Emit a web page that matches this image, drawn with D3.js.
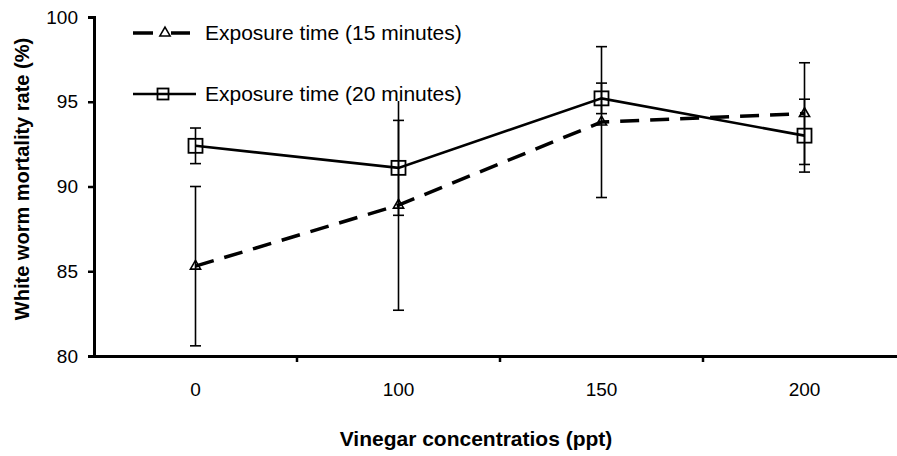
<!DOCTYPE html>
<html>
<head>
<meta charset="utf-8">
<script src="https://cdn.jsdelivr.net/npm/d3@7/dist/d3.min.js"></script>
<style>
    body { margin: 0; background: #fff; }
    text { font-family: Arial, "Liberation Sans", sans-serif; }
</style>
</head>
<body>
<div id="container"></div>
<script>
// data
const categories = ['0', '100', '150', '200']
const yTicks = [80, 85, 90, 95, 100]

const mean15 = [85.3, 88.9, 93.8, 94.3]
const err15 = [4.7, 6.2, 4.45, 3.0]
const mean20 = [92.4, 91.1, 95.2, 93.0]
const err20 = [1.05, 2.8, 0.9, 2.15]

const series = [
    { name: 'Exposure time (15 minutes)', mean: mean15, err: err15, dash: '19,11', lw: 3.5, marker: 'triangle' },
    { name: 'Exposure time (20 minutes)', mean: mean20, err: err20, dash: null, lw: 2.6, marker: 'square' }
]

const width = 897
const height = 456
const margin = { top: 17, right: -9, bottom: 100, left: 94 }

const svg = d3.select('#container').append('svg')
    .attr('width', width).attr('height', height)
    .style('background', '#fff')

const x = d3.scaleBand()
    .domain(categories)
    .range([margin.left, width - margin.right])
    .padding(0)

const y = d3.scaleLinear()
    .domain([80, 100])
    .range([height - margin.bottom, margin.top])

const cx = d => x(d) + x.bandwidth() / 2

// error bars
series.forEach(s => {
    const g = svg.append('g')
    categories.forEach((c, i) => {
        const lo = y(s.mean[i] - s.err[i])
        const hi = y(s.mean[i] + s.err[i])
        g.append('line').attr('x1', cx(c)).attr('x2', cx(c)).attr('y1', lo).attr('y2', hi)
            .attr('stroke', '#000').attr('stroke-width', 1.6)
        ;[lo, hi].forEach(v => {
            g.append('line').attr('x1', cx(c) - 5.5).attr('x2', cx(c) + 5.5).attr('y1', v).attr('y2', v)
                .attr('stroke', '#000').attr('stroke-width', 1.6)
        })
    })
})

// lines
series.forEach(s => {
    const line = d3.line().x((d, i) => cx(categories[i])).y(d => y(d))
    svg.append('path')
        .attr('d', line(s.mean))
        .attr('fill', 'none')
        .attr('stroke', '#000')
        .attr('stroke-width', s.lw)
        .attr('stroke-dasharray', s.dash)
})

const triangle = d3.symbol().type(d3.symbolTriangle).size(45)
const drawMarker = (sel, s, px, py, big) => {
    if (s.marker === 'square') {
        const sz = big ? 14 : 11
        sel.append('rect').attr('x', px - sz / 2).attr('y', py - sz / 2)
            .attr('width', sz).attr('height', sz)
            .attr('fill', 'none').attr('stroke', '#000').attr('stroke-width', 1.8)
    } else {
        sel.append('path').attr('d', triangle())
            .attr('transform', `translate(${px}, ${py})`)
            .attr('fill', 'none').attr('stroke', '#000').attr('stroke-width', 1.6)
    }
}

series.forEach(s => {
    categories.forEach((c, i) => drawMarker(svg, s, cx(c), y(s.mean[i]), true))
})

// axes
const yAxis = d3.axisLeft(y).tickValues(yTicks).tickSize(6).tickPadding(10)
const gy = svg.append('g')
    .attr('transform', `translate(${margin.left}, 0)`)
    .call(yAxis)
gy.select('.domain').attr('stroke-width', 3)
gy.selectAll('.tick line').attr('stroke-width', 2.5)
gy.selectAll('text').style('font-size', '19px').attr('fill', '#000')

const xAxis = d3.axisBottom(x).tickSize(0).tickPadding(27)
const gx = svg.append('g')
    .attr('transform', `translate(0, ${y(80)})`)
    .call(xAxis)
gx.select('.domain').attr('stroke-width', 3)
gx.selectAll('text').style('font-size', '19px').attr('fill', '#000')

// ticks at category boundaries
gx.selectAll('.sep').data(categories.slice(1)).enter().append('line')
    .attr('x1', d => x(d)).attr('x2', d => x(d))
    .attr('y1', 0).attr('y2', 6)
    .attr('stroke', '#000').attr('stroke-width', 2.5)

// axis titles
svg.append('text')
    .attr('transform', `translate(22, 179) rotate(-90)`)
    .attr('text-anchor', 'middle').attr('dy', '0.35em')
    .style('font-size', '20px').style('font-weight', 'bold')
    .text('White worm mortality rate (%)')

svg.append('text')
    .attr('x', 476).attr('y', 446)
    .attr('text-anchor', 'middle')
    .style('font-size', '21px').style('font-weight', 'bold')
    .text('Vinegar concentratios (ppt)')

// legend
const legend = svg.append('g')
legend.append('rect').attr('x', 128).attr('y', 14).attr('width', 345).attr('height', 87).attr('fill', '#fff')
const legendY = [33, 94]
series.forEach((s, i) => {
    const ly = legendY[i]
    legend.append('line').attr('x1', 133).attr('x2', s.dash ? 190 : 196).attr('y1', ly).attr('y2', ly)
        .attr('stroke', '#000').attr('stroke-width', s.lw)
        .attr('stroke-dasharray', s.dash ? '20,17' : null)
    if (s.dash) {
        legend.append('rect').attr('x', 159).attr('y', ly - 6).attr('width', 12).attr('height', 12).attr('fill', '#fff')
    }
    drawMarker(legend, s, s.dash ? 165 : 163, ly, false)
    legend.append('text').attr('x', 205).attr('y', ly).attr('dy', '0.35em')
        .style('font-size', '21px')
        .text(s.name)
})
</script>
</body>
</html>
